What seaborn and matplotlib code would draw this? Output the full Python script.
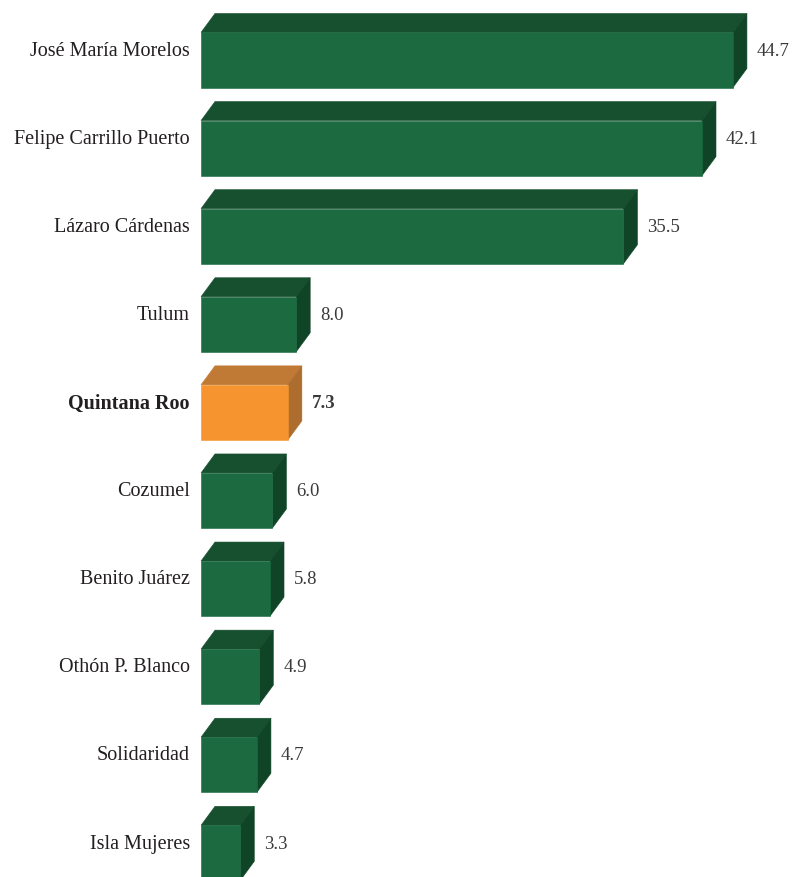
import numpy as np
import matplotlib.pyplot as plt
import seaborn as sns
import pandas as pd
from matplotlib.patches import Polygon

municipios = ["José María Morelos", "Felipe Carrillo Puerto", "Lázaro Cárdenas", "Tulum",
              "Quintana Roo", "Cozumel", "Benito Juárez", "Othón P. Blanco",
              "Solidaridad", "Isla Mujeres"]
valores = [44.7, 42.1, 35.5, 8.0, 7.3, 6.0, 5.8, 4.9, 4.7, 3.3]
destacado = "Quintana Roo"

df = pd.DataFrame({"municipio": municipios, "valor": valores})

# colours: front, top, side
verde = ("#1c6b40", "#16502f", "#0f4526")
naranja = ("#f6952f", "#c07a36", "#ad6d2e")

sns.set_style("white")
plt.rcParams["font.family"] = ["Liberation Serif", "DejaVu Serif"]

fig = plt.figure(figsize=(7.96, 8.77), dpi=100)
ax = fig.add_axes([201 / 796, 0, 595 / 796, 1])

palette = [naranja[0] if m == destacado else verde[0] for m in municipios]
sns.barplot(data=df, x="valor", y="municipio", hue="municipio", palette=palette,
            orient="h", width=0.625, saturation=1, legend=False, ax=ax,
            linewidth=0, zorder=3)

ax.set_xlim(0, 595 / 11.9)
ax.set_ylim(9.274, -0.681)

dx = 14 / 11.9      # depth in x units
dy = 19 / 88.1      # depth in category units

for i, p in enumerate(ax.patches[:len(municipios)]):
    x0, w = p.get_x(), p.get_width()
    ytop = p.get_y()
    h = p.get_height()
    ybot = ytop + h
    cols = naranja if municipios[i] == destacado else verde
    p.set_edgecolor(cols[0])
    p.set_linewidth(0.4)
    top = Polygon([(x0, ytop), (x0 + dx, ytop - dy), (x0 + w + dx, ytop - dy), (x0 + w, ytop)],
                  closed=True, facecolor=cols[1], edgecolor=cols[1], linewidth=0.4, zorder=2)
    side = Polygon([(x0 + w, ytop), (x0 + w + dx, ytop - dy), (x0 + w + dx, ybot - dy), (x0 + w, ybot)],
                   closed=True, facecolor=cols[2], edgecolor=cols[2], linewidth=0.4, zorder=2)
    ax.add_patch(top)
    ax.add_patch(side)

for i, (m, v) in enumerate(zip(municipios, valores)):
    peso = "bold" if m == destacado else "normal"
    yc = i - 0.1
    ax.text(-11 / 11.9, yc, m, ha="right", va="center", fontsize=14.5,
            color="#231f20", fontweight=peso, clip_on=False)
    ax.text(v + dx + 10 / 11.9, yc, f"{v:.1f}", ha="left", va="center", fontsize=13.5,
            color="#3a3a3a", fontweight=peso, clip_on=False)

ax.set_xlabel("")
ax.set_ylabel("")
ax.set_xticks([])
ax.set_yticks([])
sns.despine(ax=ax, left=True, bottom=True)

fig.savefig("out.png", dpi=100)
